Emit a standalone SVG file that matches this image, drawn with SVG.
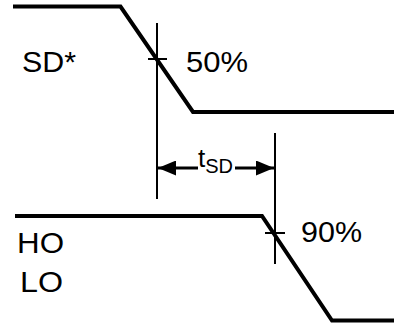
<svg xmlns="http://www.w3.org/2000/svg" width="394" height="324" viewBox="0 0 394 324">
<style>
.wave{fill:none;stroke:#000;stroke-width:4;stroke-linejoin:miter}
.thin{fill:none;stroke:#000;stroke-width:2}
.arr{fill:none;stroke:#000;stroke-width:3}
.lbl{font-family:"Liberation Sans",Arial,sans-serif;font-size:29px;fill:#000}
</style>
<defs>
<marker id="ah" viewBox="0 0 18 15" refX="18" refY="7.5" markerWidth="18" markerHeight="15" markerUnits="userSpaceOnUse" orient="auto">
<path d="M0,0 L18,7.5 L0,15 Z" fill="#000"/>
</marker>
</defs>
<rect width="394" height="324" fill="#fff"/>
<g id="sd-wave">
<polyline class="wave" points="13,6.5 120.5,6.5 193,112 394,112"/>
<line class="thin" x1="148" y1="59" x2="167" y2="59"/>
<text class="lbl" x="22" y="72" textLength="54" lengthAdjust="spacingAndGlyphs">SD*</text>
<text class="lbl" x="186" y="72" textLength="62" lengthAdjust="spacingAndGlyphs">50%</text>
</g>
<g id="ho-lo-wave">
<polyline class="wave" points="15,216 262,216 332,320.5 394,320.5"/>
<line class="thin" x1="265" y1="233" x2="285" y2="233"/>
<text class="lbl" x="17" y="253" textLength="47" lengthAdjust="spacingAndGlyphs">HO</text>
<text class="lbl" x="20" y="292" textLength="43" lengthAdjust="spacingAndGlyphs">LO</text>
<text class="lbl" x="301" y="242" textLength="61" lengthAdjust="spacingAndGlyphs">90%</text>
</g>
<g id="connectors">
<line class="thin" x1="157" y1="23" x2="157" y2="199"/>
<line class="thin" x1="275" y1="133" x2="275" y2="264"/>
<line class="arr" x1="198" y1="168" x2="158" y2="168" marker-end="url(#ah)"/>
<line class="arr" x1="235" y1="168" x2="274" y2="168" marker-end="url(#ah)"/>
</g>
<g id="tsd-label">
<text class="lbl" x="198" y="167" style="font-size:26px">t<tspan dy="6" style="font-size:20px">SD</tspan></text>
</g>
</svg>
